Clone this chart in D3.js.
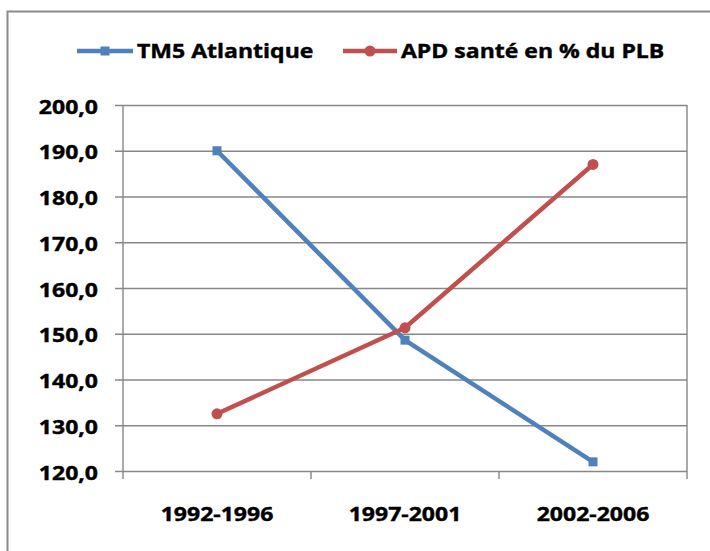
<!DOCTYPE html>
<html><head><meta charset="utf-8">
<script src="https://cdn.jsdelivr.net/npm/d3@7"></script>
<style>
html,body{margin:0;padding:0;background:#fff;}
svg{display:block;}
text{font-family:"Open Sans",sans-serif;font-weight:700;fill:#000;stroke:#000;stroke-width:0.4px;}
</style></head>
<body>
<svg id="c" width="710" height="551"></svg>
<script>
const categories = ["1992-1996","1997-2001","2002-2006"];
const seriesNames = ["TM5 Atlantique","APD santé en % du PLB"];
const tm5 = [190.0, 148.6, 122.0];
const apd = [132.5, 151.3, 187.0];
const yTicks = [120,130,140,150,160,170,180,190,200];
const colors = ["#4f81bd","#c0504d"];

const svg = d3.select("#c");
const W = 710, H = 551;
const L = 123, R = 687, T = 105, B = 471;
const gridColor = "#878787";
const fmt = v => d3.format(".1f")(v).replace(".", ",");

// outer frame
svg.append("rect").attr("x",7.5).attr("y",11.5).attr("width",W+20).attr("height",H+20)
  .attr("fill","none").attr("stroke","#8a8a8a").attr("stroke-width",2);

const x = d3.scaleBand().domain(categories).range([L,R]).padding(0);
const y = d3.scaleLinear().domain([120,200]).range([B,T]);

// y axis with gridlines
const yAxis = d3.axisLeft(y).tickValues(yTicks).tickFormat(fmt)
  .tickSizeInner(-(R-(L-8))).tickSizeOuter(0).tickPadding(17);
const gy = svg.append("g").attr("transform",`translate(${L-8},0)`).call(yAxis);
gy.select(".domain").remove();
gy.selectAll(".tick line").attr("stroke",gridColor).attr("stroke-width",1.4);
gy.selectAll(".tick text").attr("font-size",19.5).attr("dy","0.42em");

// vertical axis line and boundary ticks
const bounds = categories.map(c => x(c)).concat([x(categories[categories.length-1]) + x.bandwidth()]);
svg.append("g").selectAll("line").data(bounds).join("line")
  .attr("x1",d=>d).attr("x2",d=>d)
  .attr("y1",(d,i)=> (i===0||i===bounds.length-1) ? T : B)
  .attr("y2",B+8)
  .attr("stroke",gridColor).attr("stroke-width",1.4);

// x labels
const xAxis = d3.axisBottom(x).tickSize(0).tickPadding(0);
const gx = svg.append("g").attr("transform",`translate(0,${B})`).call(xAxis);
gx.select(".domain").remove();
gx.selectAll(".tick text").attr("font-size",19.5).attr("y",50).attr("dy",0);

// lines
const line = d3.line().x((d,i)=>x(categories[i])+x.bandwidth()/2).y(d=>y(d));
[tm5, apd].forEach((s,k)=>{
  svg.append("path").datum(s).attr("d",line).attr("fill","none")
    .attr("stroke",colors[k]).attr("stroke-width",4.5).attr("stroke-linejoin","round");
});
// markers
svg.append("g").selectAll("rect").data(tm5).join("rect")
  .attr("x",(d,i)=>x(categories[i])+x.bandwidth()/2-4.5).attr("y",d=>y(d)-4.5)
  .attr("width",9).attr("height",9).attr("fill",colors[0]);
svg.append("g").selectAll("circle").data(apd).join("circle")
  .attr("cx",(d,i)=>x(categories[i])+x.bandwidth()/2).attr("cy",d=>y(d))
  .attr("r",5.5).attr("fill",colors[1]);

// legend
const legendItems = [
  {name: seriesNames[0], x0: 77, x1: 133, tx: 137, marker: "square"},
  {name: seriesNames[1], x0: 343, x1: 397, tx: 401, marker: "circle"}
];
const ly = 51;
const lg = svg.append("g");
legendItems.forEach((it,k)=>{
  lg.append("line").attr("x1",it.x0).attr("x2",it.x1).attr("y1",ly).attr("y2",ly)
    .attr("stroke",colors[k]).attr("stroke-width",4.5);
  const cx = (it.x0+it.x1)/2;
  if (it.marker==="square") lg.append("rect").attr("x",cx-4.5).attr("y",ly-4.5).attr("width",9).attr("height",9).attr("fill",colors[k]);
  else lg.append("circle").attr("cx",cx).attr("cy",ly).attr("r",5.5).attr("fill",colors[k]);
  lg.append("text").attr("x",it.tx).attr("y",ly+7).attr("font-size",19.5).text(it.name);
});

// widen glyphs to match reference proportions
svg.selectAll("text").each(function(){
  const w = this.getComputedTextLength();
  this.setAttribute("textLength", (w*1.18).toFixed(1));
  this.setAttribute("lengthAdjust","spacingAndGlyphs");
});
</script>
</body></html>
